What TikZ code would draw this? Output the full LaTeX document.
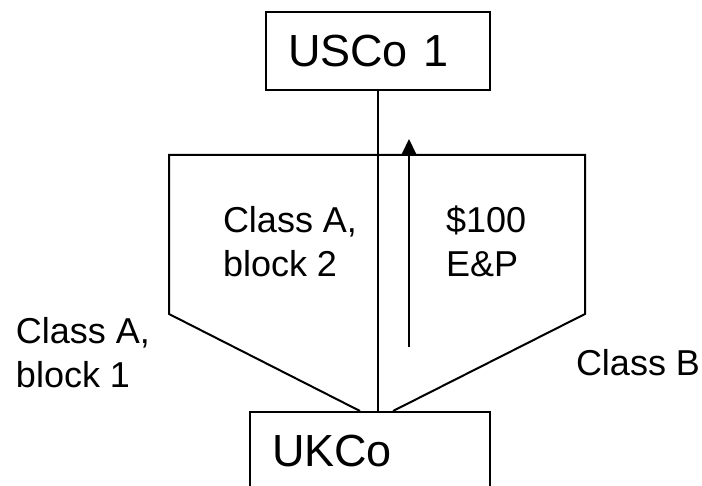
\documentclass[tikz,border=0pt]{standalone}
\usepackage{fontspec}
\setmainfont{Liberation Sans}
\usetikzlibrary{arrows.meta}

\tikzset{every node/.style={inner sep=0pt}}
\tikzstyle{company}=[draw, line width=2pt, anchor=north west, align=left,
    minimum height=78pt, inner xsep=22pt, font=\fontsize{45}{54}\selectfont]
\tikzstyle{label}=[anchor=base west, align=left, font=\fontsize{36}{44}\selectfont]

\begin{document}
\begin{tikzpicture}[x=1pt, y=-1pt, line width=2pt]
    \useasboundingbox (0,0) rectangle (702,486);

    \node [company, text width=180pt] (usco) at (265,11) {USCo 1};
    \node [company, text width=196pt, inner xsep=22pt] (ukco) at (249,411) {UKCo};

    % share classes of UKCo
    \coordinate (foot left) at (360,411);
    \coordinate (foot right) at (393,411);
    \draw (foot left) -- (169,314) -- (169,155) -- (585,155) -- (585,314) -- (foot right);
    \draw (usco.south) -- (usco.south |- ukco.north);

    % distribution up to USCo 1
    \coordinate (flow start) at (409,347);
    \coordinate (flow end) at (409,139);
    \draw [-{Triangle[width=14pt,length=15pt]}] (flow start) -- (flow end);

    % base of a two-line label is its last line
    \node [label] (block two) at (222,277) {Class A,\\block 2};
    \node [label] (earnings) at (445,277) {\$100\\E\&P};
    \node [label] (block one) at (15,388) {Class A,\\block 1};
    \node [label] (class b) at (575,376) {Class B};
\end{tikzpicture}
\end{document}
